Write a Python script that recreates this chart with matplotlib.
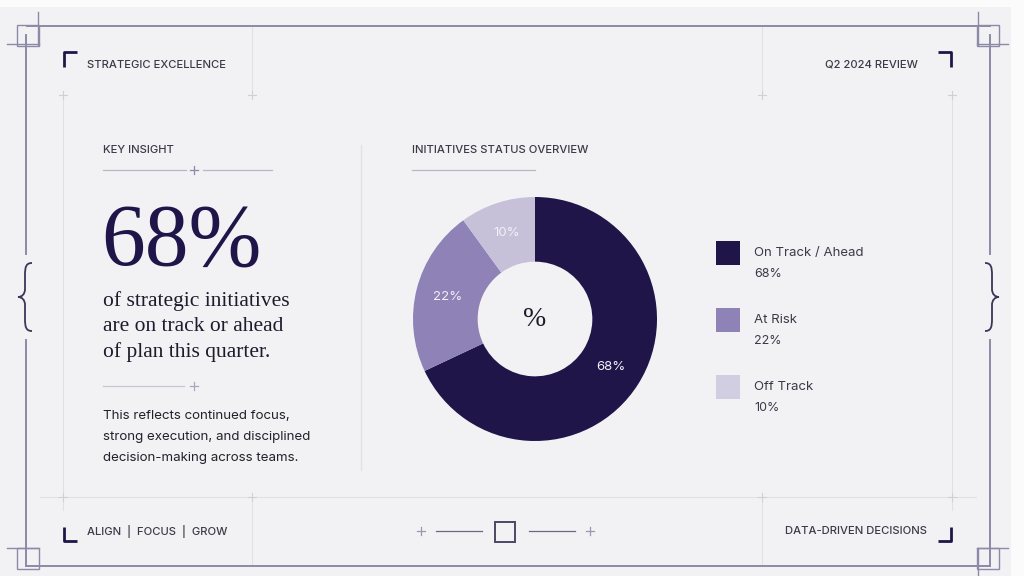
import matplotlib.pyplot as plt
from matplotlib.patches import Rectangle, PathPatch
from matplotlib.path import Path

# data
categories = ['On Track / Ahead', 'At Risk', 'Off Track']
shares = [68, 22, 10]
slice_colors = ['#1f1548', '#8e82b6', '#c6c0d9']
swatch_colors = ['#1f1548', '#8e82b6', '#d2cee2']

navy = '#1f1548'
frame = '#8c8aa6'
faint = '#e0e0e8'
label_c = '#3b3a48'
bg = '#f2f2f5'
sans = ['Inter', 'DejaVu Sans']
serif = ['Liberation Serif', 'DejaVu Serif']

fig = plt.figure(figsize=(10.24, 5.76), dpi=100, facecolor=bg)
ax = fig.add_axes([0, 0, 1, 1])
ax.set_xlim(0, 1024)
ax.set_ylim(576, 0)
ax.axis('off')

# whiter outer margin
ax.add_patch(Rectangle((0, 0), 1024, 7, color='#fbfbfc', lw=0, zorder=0))
ax.add_patch(Rectangle((1011, 0), 13, 576, color='#fbfbfc', lw=0, zorder=0))

# faint guide grid
for x in [63, 952]:
    ax.plot([x, x], [95, 510], color=faint, lw=0.8, zorder=1)
for x in [252, 762]:
    ax.plot([x, x], [26, 95], color=faint, lw=0.8, zorder=1)
    ax.plot([x, x], [497, 566], color=faint, lw=0.8, zorder=1)
ax.plot([40, 976], [497, 497], color=faint, lw=0.8, zorder=1)
ax.plot([361, 361], [145, 470], color=faint, lw=0.9, zorder=1)
for x in [63, 252, 762, 952]:
    for y in [95, 497]:
        ax.plot([x - 4, x + 4], [y, y], color='#cfcfda', lw=0.8, zorder=1)
        ax.plot([x, x], [y - 4, y + 4], color='#cfcfda', lw=0.8, zorder=1)

# outer frame
ax.plot([27, 990], [26, 26], color=frame, lw=1.4)
ax.plot([27, 990], [566, 566], color=frame, lw=1.4)
ax.plot([26, 26], [35, 254], color=frame, lw=1.4)
ax.plot([26, 26], [340, 566], color=frame, lw=1.4)
ax.plot([990, 990], [35, 254], color=frame, lw=1.4)
ax.plot([990, 990], [340, 566], color=frame, lw=1.4)

# corner squares with cross lines
for (sx, sy) in [(17, 25), (977, 25), (17, 548), (977, 548)]:
    ax.add_patch(Rectangle((sx, sy), 22, 21, fill=False, ec=frame, lw=1.0))
ax.plot([7, 39], [44, 44], color=frame, lw=1.0)
ax.plot([38, 38], [12, 45], color=frame, lw=1.0)
ax.plot([977, 1008], [44, 44], color=frame, lw=1.0)
ax.plot([978, 978], [12, 45], color=frame, lw=1.0)
ax.plot([7, 39], [548, 548], color=frame, lw=1.0)
ax.plot([977, 1008], [548, 548], color=frame, lw=1.0)
ax.plot([978, 978], [548, 575], color=frame, lw=1.0)

# braces on the sides
def brace(xc, yc, d):
    verts = [(xc + 6 * d, yc - 34),
             (xc, yc - 34), (xc - 1 * d, yc - 30), (xc - 1 * d, yc - 22),
             (xc - 1 * d, yc - 8),
             (xc - 1 * d, yc - 3), (xc - 4 * d, yc), (xc - 8 * d, yc),
             (xc - 4 * d, yc), (xc - 1 * d, yc + 3), (xc - 1 * d, yc + 8),
             (xc - 1 * d, yc + 22),
             (xc - 1 * d, yc + 30), (xc, yc + 34), (xc + 6 * d, yc + 34)]
    codes = [Path.MOVETO, Path.CURVE4, Path.CURVE4, Path.CURVE4, Path.LINETO,
             Path.CURVE4, Path.CURVE4, Path.CURVE4, Path.CURVE4, Path.CURVE4,
             Path.CURVE4, Path.LINETO, Path.CURVE4, Path.CURVE4, Path.CURVE4]
    ax.add_patch(PathPatch(Path(verts, codes), fill=False, ec='#3a3658', lw=1.3))

brace(26, 297, 1)
brace(991, 297, -1)

# corner brackets
bk = dict(color=navy, lw=2.0, solid_capstyle='butt')
ax.plot([64, 64, 77], [67, 52, 52], **bk)
ax.plot([938, 951, 951], [52, 52, 67], **bk)
ax.plot([64, 64, 77], [527, 541, 541], **bk)
ax.plot([938, 951, 951], [541, 541, 527], **bk)

# header / footer labels
small = dict(family=sans, fontsize=8.1, color=label_c, fontweight='medium', va='center')
ax.text(87, 65, 'STRATEGIC EXCELLENCE', ha='left', **small)
ax.text(918, 65, 'Q2 2024 REVIEW', ha='right', **small)
ax.text(87, 531, 'ALIGN  |  FOCUS  |  GROW', ha='left', **small)
ax.text(927, 531, 'DATA-DRIVEN DECISIONS', ha='right', **small)

# bottom center ornament
orn = '#6a6884'
for x in [421, 590]:
    ax.plot([x - 4, x + 4], [531, 531], color='#9a98ae', lw=0.9)
    ax.plot([x, x], [527, 535], color='#9a98ae', lw=0.9)
ax.plot([436, 482], [531, 531], color=orn, lw=0.9)
ax.plot([529, 575], [531, 531], color=orn, lw=0.9)
ax.add_patch(Rectangle((495, 522), 20, 20, fill=False, ec='#4a4866', lw=1.4))

# left panel
ax.text(103, 150, 'KEY INSIGHT', ha='left', **small)
ax.plot([103, 186], [170, 170], color='#b8b6c8', lw=0.9)
ax.plot([203, 272], [170, 170], color='#b8b6c8', lw=0.9)
ax.plot([190, 198], [170, 170], color='#8c8aa6', lw=0.9)
ax.plot([194, 194], [166, 174], color='#8c8aa6', lw=0.9)

ax.text(101, 265, f'{shares[0]}%', family=serif, fontsize=63, color=navy,
        ha='left', va='baseline')
ax.text(103, 327, 'of strategic initiatives\nare on track or ahead\nof plan this quarter.',
        family=serif, fontsize=15.5, color='#1d1b2c', ha='left', va='center',
        linespacing=1.42)

ax.plot([103, 184], [386, 386], color='#c8c6d4', lw=0.9)
ax.plot([190, 198], [386, 386], color='#a8a6ba', lw=0.9)
ax.plot([194, 194], [382, 390], color='#a8a6ba', lw=0.9)

ax.text(103, 437, 'This reflects continued focus,\nstrong execution, and disciplined\n'
        'decision-making across teams.', family=sans, fontsize=9.6, color='#23222c',
        ha='left', va='center', linespacing=1.95)

# chart panel
ax.text(412, 150, 'INITIATIVES STATUS OVERVIEW', ha='left', **small)
ax.plot([412, 535], [170, 170], color='#b8b6c8', lw=0.9)

cx, cy, r = 535, 319, 122
pax = fig.add_axes([(cx - r) / 1024, (576 - cy - r) / 576, 2 * r / 1024, 2 * r / 576])
wedges, _, autotexts = pax.pie(shares, colors=slice_colors, startangle=90,
                               counterclock=False, radius=1,
                               autopct=lambda p: f'{p:.0f}%', pctdistance=0.74,
                               wedgeprops=dict(width=0.53, edgecolor='none'))
for t in autotexts:
    t.set_color('#f2f0f8')
    t.set_fontsize(9.5)
    t.set_family(sans)
pax.set_xlim(-1, 1)
pax.set_ylim(-1, 1)
pax.set_aspect('equal')
pax.axis('off')
pax.text(0, 0, '%', family=serif, fontsize=20, color='#1d1b2c', ha='center', va='center')

# legend
for i, (cat, val, col) in enumerate(zip(categories, shares, swatch_colors)):
    y0 = 241 + i * 67
    ax.add_patch(Rectangle((716, y0), 24, 24, color=col, lw=0))
    ax.text(754, y0 + 12, cat, family=sans, fontsize=9.5, color=label_c,
            ha='left', va='center')
    ax.text(754, y0 + 33, f'{val}%', family=sans, fontsize=9.0, color=label_c,
            ha='left', va='center')

fig.savefig('out.png', dpi=100, facecolor=bg)
